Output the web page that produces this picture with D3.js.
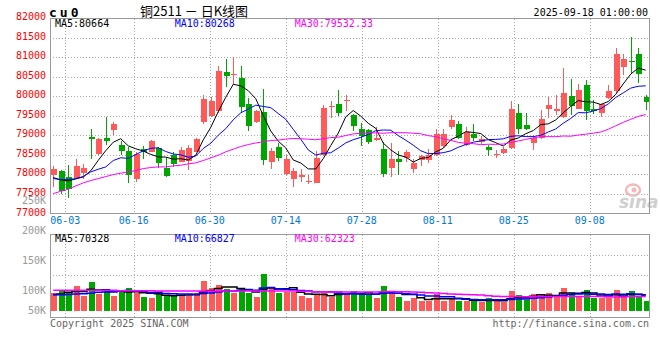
<!DOCTYPE html>
<html><head><meta charset="utf-8">
<script src="https://cdn.jsdelivr.net/npm/d3@7"></script>
<style>body{margin:0;background:#fff}svg{display:block}</style>
</head><body><svg id="c" width="660" height="360"></svg>
<script>
// ---------- data ----------
const dates = ["05-29","05-30","06-03","06-04","06-05","06-06","06-09","06-10","06-11","06-12","06-13","06-16","06-17","06-18","06-19","06-20","06-23","06-24","06-25","06-26","06-27","06-30","07-01","07-02","07-03","07-04","07-07","07-08","07-09","07-10","07-11","07-14","07-15","07-16","07-17","07-18","07-21","07-22","07-23","07-24","07-25","07-28","07-29","07-30","07-31","08-01","08-04","08-05","08-06","08-07","08-08","08-11","08-12","08-13","08-14","08-15","08-18","08-19","08-20","08-21","08-22","08-25","08-26","08-27","08-28","08-29","09-01","09-02","09-03","09-04","09-05","09-08","09-09","09-10","09-11","09-12","09-15","09-16","09-17","09-18"];
const open = [77990,78080,77920,77910,78030,78950,78530,78920,79130,78740,78590,77870,78640,78570,78660,78160,78500,78320,78330,78570,79330,79500,79620,80620,80540,80470,79810,79340,79600,78320,78690,78000,77890,77930,77790,77780,78490,79710,79810,79870,79510,79170,79130,78870,78640,78160,78380,78420,78130,78360,78360,78500,78720,79210,79280,78740,79040,78820,78690,78510,78550,78660,79580,79270,78800,78930,79660,79620,79470,80000,79670,80280,79680,79580,79940,80130,80740,80910,81070,79980];
const high = [78210,78100,78230,78390,78270,79170,78920,79470,79340,78860,78700,78560,78720,78870,78690,78450,78570,78700,78740,78930,80040,79980,80770,80950,81000,80770,79960,79640,80180,78680,78790,78500,78160,78140,77990,78590,79770,79870,80150,80030,79530,79300,79170,79210,78830,78790,78590,78620,78380,78490,78640,79170,79150,79510,79360,79200,79280,78980,78760,78620,78700,79870,79810,79580,79000,79640,79980,80030,80730,80440,80300,80410,79900,79810,80280,81220,81070,81520,81240,80040];
const low = [77680,77500,77380,77890,77890,78400,78490,78740,79000,78490,77780,77790,78400,78560,78160,77920,78190,78310,78100,78560,79290,79470,79580,80240,80280,79600,79100,79320,78230,78130,78340,77990,77680,77790,77740,77770,78470,79450,79500,79620,79100,78730,78770,78850,77920,77920,77990,78320,78040,78210,78300,78470,78680,79150,78900,78730,78850,78760,78470,78420,78530,78640,79020,79130,78620,78900,79430,79510,79440,79510,79660,79400,79530,79470,79920,80090,80540,80560,80340,79640];
const close = [78130,77560,77620,78200,78150,78910,78900,78860,79280,78600,77990,78530,78570,78850,78290,77950,78270,78630,78680,78900,79920,79870,80640,80520,80560,79730,79240,79620,78360,78590,78420,78380,78080,77970,77830,78420,79700,79750,79570,79900,79240,78980,78830,78930,78000,78380,78320,78570,78290,78470,78500,79030,79030,79390,78930,79070,78930,78890,78620,78530,78640,79680,79170,79170,78930,79410,79770,79670,80090,79750,80150,79620,79620,79790,80130,81070,80950,80880,80560,79860];
const volume = [81750,92250,84750,113250,68250,131250,77250,89250,68250,90750,104250,81750,65250,59250,77250,71250,71250,74250,66750,81750,135750,104250,117750,101250,80250,104250,80250,63750,167250,101250,81750,84750,87750,66750,59250,77250,80250,62250,90750,74250,90750,77250,77250,59250,114750,86250,63750,45750,59250,45750,45750,77250,45750,59250,45750,45750,45750,39750,59250,45750,39750,90750,72750,51750,77250,72750,81750,66750,104250,81750,66750,95250,59250,59250,59250,95250,66750,90750,66750,45750];
const ma5Lead = [77915,77855,77830,77880];
const ma10Lead = [77889,77863,77863,77889,77940,78060,78128,78188,78351];
const ma30Lead = [77504,77564,77615,77701,77778,77838,77889,77940,77991,78026,78060,78094,78145,78171,78188,78188,78214,78231,78265,78291,78351,78419,78487,78573,78641,78709,78760,78800,78830];
const volMa5Lead = [74000,77000,84000,88000];
const volMa10Lead = [73000,73000,74000,76000,78000,80000,84000,86000,87000];
const volMa30Lead = [93500,93500,93500,93500,93500,93500,93500,93500,93500,91500,91500,91500,91500,91500,90000,90000,90000,90000,90000,90000,90000,90000,90000,90000,90000,90000,90000,90000,90000];
const priceTicks = [82000,81500,81000,80500,80000,79500,79000,78500,78000,77500,77000];
const dateTicks = ["06-03","06-16","06-30","07-14","07-28","08-11","08-25","09-08"];
const volTicks = [250000,200000,150000,100000,50000];
const maNames = ["MA5","MA10","MA30"];
const priceMaText = ["80664","80268","79532.33"];
const volMaText = ["70328","66827","62323"];
const titleText = "铜2511 － 日K线图";
const symbolText = "cu0";
const timeText = "2025-09-18 01:00:00";

// ---------- setup ----------
const svg = d3.select("#c");
const MONO = "'DejaVu Sans Mono', monospace";
const RED = "#ff5a5a", GREEN = "#00a600";
const maColors = ["#000000","#0000ff","#ff00ff"];
const L = 50, R = 649, PT = 18.5, PB = 213.5, VT = 234.5, VB = 317.5;

const x = d3.scaleBand().domain(dates).range([49.5, 649.5]);
const xc = d => x(d) + x.bandwidth() / 2;
const xg = d3.scaleLinear().domain([0, dates.length]).range([50.1, 50.1 + 7.6 * dates.length]);
const y = d3.scaleLinear().domain([77000, 82000]).range([213.3, 18]);
const yv = d3.scaleLinear().domain([0, 100000]).range([311, 311 - 100000 / 4500]);
const yvLab = d3.scaleLinear().domain([250000, 100000]).range([200.5, 290]);

function movingAvg(arr, n, lead) {
  return arr.map((v, i) => i < n - 1 ? lead[i] : d3.mean(arr.slice(i - n + 1, i + 1)));
}
const ma = [movingAvg(close, 5, ma5Lead), movingAvg(close, 10, ma10Lead), movingAvg(close, 30, ma30Lead)];
const vma = [movingAvg(volume, 5, volMa5Lead), movingAvg(volume, 10, volMa10Lead), movingAvg(volume, 30, volMa30Lead)];

const data = dates.map((d, i) => ({d, i, o: open[i], h: high[i], l: low[i], c: close[i], v: volume[i]}));
const isUp = d => d.c >= d.o;

const defs = svg.append("defs");
defs.append("clipPath").attr("id", "cp").append("rect").attr("x", L).attr("y", PT).attr("width", R - L).attr("height", PB - PT);
defs.append("clipPath").attr("id", "cv").append("rect").attr("x", L).attr("y", VT).attr("width", R - L).attr("height", VB - VT);

// ---------- grid ----------
const grid = svg.append("g").attr("stroke", "#aaa").attr("stroke-dasharray", "1,2").attr("shape-rendering", "crispEdges");
grid.selectAll("line.h").data(priceTicks.filter(t => t > 77000 && t < 82000)).join("line")
  .attr("x1", L).attr("x2", R).attr("y1", d => Math.round(y(d)) + 0.5).attr("y2", d => Math.round(y(d)) + 0.5);
grid.selectAll("line.v").data(dateTicks).join("line")
  .attr("x1", d => Math.round(xg(dates.indexOf(d))) + 0.5).attr("x2", d => Math.round(xg(dates.indexOf(d))) + 0.5)
  .attr("y1", PT).attr("y2", PB);
const volGridVals = [yvLab.invert(255.3), yvLab.invert(275.3)];
grid.selectAll("line.vh").data([255.5, 275.5]).join("line")
  .attr("x1", L).attr("x2", R).attr("y1", d => d).attr("y2", d => d);
grid.selectAll("line.vv").data(dateTicks).join("line")
  .attr("x1", d => Math.round(xg(dates.indexOf(d))) + 0.5).attr("x2", d => Math.round(xg(dates.indexOf(d))) + 0.5)
  .attr("y1", VT).attr("y2", VB);

// ---------- watermark ----------
const wm = svg.append("g");
wm.append("ellipse").attr("cx", 633).attr("cy", 190).attr("rx", 7).attr("ry", 5.5).attr("fill", "none").attr("stroke", "#f4b8b8").attr("stroke-width", 2.5);
wm.append("circle").attr("cx", 634).attr("cy", 190).attr("r", 2.5).attr("fill", "#f4b8b8");
wm.append("text").attr("x", 619).attr("y", 208).attr("font-family", "'DejaVu Sans', sans-serif").attr("font-style", "italic").attr("font-weight", "bold").attr("font-size", 17).attr("fill", "#cfcfcf").text("sina");

// ---------- candles ----------
const cg = svg.append("g").attr("shape-rendering", "crispEdges");
cg.selectAll("line").data(data).join("line")
  .attr("x1", d => Math.round(x(d.d) + 0.75) + 3.5).attr("x2", d => Math.round(x(d.d) + 0.75) + 3.5)
  .attr("y1", d => y(d.h)).attr("y2", d => y(d.l))
  .attr("stroke", d => isUp(d) ? RED : GREEN);
cg.selectAll("rect").data(data).join("rect")
  .attr("x", d => Math.round(x(d.d) + 0.75) + 0.5).attr("width", 6)
  .attr("y", d => y(Math.max(d.o, d.c))).attr("height", d => Math.max(1, Math.abs(y(d.o) - y(d.c))))
  .attr("fill", d => isUp(d) ? RED : GREEN);

// ---------- MA lines ----------
const lineP = d3.line().x((v, i) => xc(dates[i])).y(v => y(v));
svg.append("g").attr("clip-path", "url(#cp)").selectAll("path").data(ma).join("path")
  .attr("d", lineP).attr("fill", "none").attr("stroke", (d, k) => maColors[k]).attr("stroke-width", 1);

// ---------- volume bars ----------
const vg = svg.append("g").attr("shape-rendering", "crispEdges");
vg.selectAll("rect").data(data).join("rect")
  .attr("x", d => Math.round(x(d.d) + 0.75) + 0.5).attr("width", 6)
  .attr("y", d => yv(d.v)).attr("height", d => yv(0) - yv(d.v))
  .attr("fill", d => isUp(d) ? RED : GREEN);
const lineV = d3.line().curve(d3.curveStep).x((v, i) => xc(dates[i])).y(v => yv(v));
svg.append("g").attr("clip-path", "url(#cv)").selectAll("path").data(vma).join("path")
  .attr("d", lineV).attr("fill", "none").attr("stroke", (d, k) => maColors[k]).attr("stroke-width", 1.5);

// ---------- borders ----------
const bd = svg.append("g").attr("fill", "none").attr("stroke", "#999").attr("shape-rendering", "crispEdges");
bd.append("rect").attr("x", L + 0.5).attr("y", PT).attr("width", R - L).attr("height", PB - PT);
bd.append("rect").attr("x", L + 0.5).attr("y", VT).attr("width", R - L).attr("height", VB - VT);

// ---------- texts ----------
const t = svg.append("g").attr("font-family", MONO).attr("font-size", 10);
t.selectAll("text.p").data(priceTicks).join("text")
  .attr("x", 46).attr("y", d => y(d) + 2.2).attr("text-anchor", "end").attr("fill", "#f00").text(d => d);
t.selectAll("text.vl").data(volTicks).join("text")
  .attr("x", 46).attr("y", d => Math.min(yvLab(d), 310.3) + 3.6).attr("text-anchor", "end").attr("fill", "#999")
  .text(d => (d / 1000) + "K");
t.selectAll("text.dt").data(dateTicks).join("text")
  .attr("x", d => xg(dates.indexOf(d))).attr("y", 224.2).attr("text-anchor", "middle").attr("fill", "#0078d7").text(d => d);
const maX = [55, 174.7, 294.7];
t.selectAll("text.pm").data(maNames).join("text")
  .attr("x", (d, k) => maX[k]).attr("y", 26.6).attr("fill", (d, k) => maColors[k]).text((d, k) => d + ":" + priceMaText[k]);
t.selectAll("text.vm").data(maNames).join("text")
  .attr("x", (d, k) => maX[k]).attr("y", 242).attr("fill", (d, k) => maColors[k]).text((d, k) => d + ":" + volMaText[k]);
t.append("text").attr("x", 50).attr("y", 327).attr("fill", "#666").text("Copyright 2025 SINA.COM");
t.append("text").attr("x", 649).attr("y", 327).attr("text-anchor", "end").attr("fill", "#666").text("http://finance.sina.com.cn");
t.append("text").attr("x", 648).attr("y", 15.5).attr("text-anchor", "end").attr("fill", "#000").text(timeText);
svg.append("text").attr("x", 49).attr("y", 16.5).attr("font-family", MONO).attr("font-weight", "bold").attr("font-size", 13)
  .attr("letter-spacing", 3).attr("fill", "#000").text(symbolText);
svg.append("text").attr("x", 140).attr("y", 16).attr("font-family", "'Noto Sans CJK SC', sans-serif").attr("font-size", 13)
  .attr("fill", "#000").text(titleText);
</script></body></html>
